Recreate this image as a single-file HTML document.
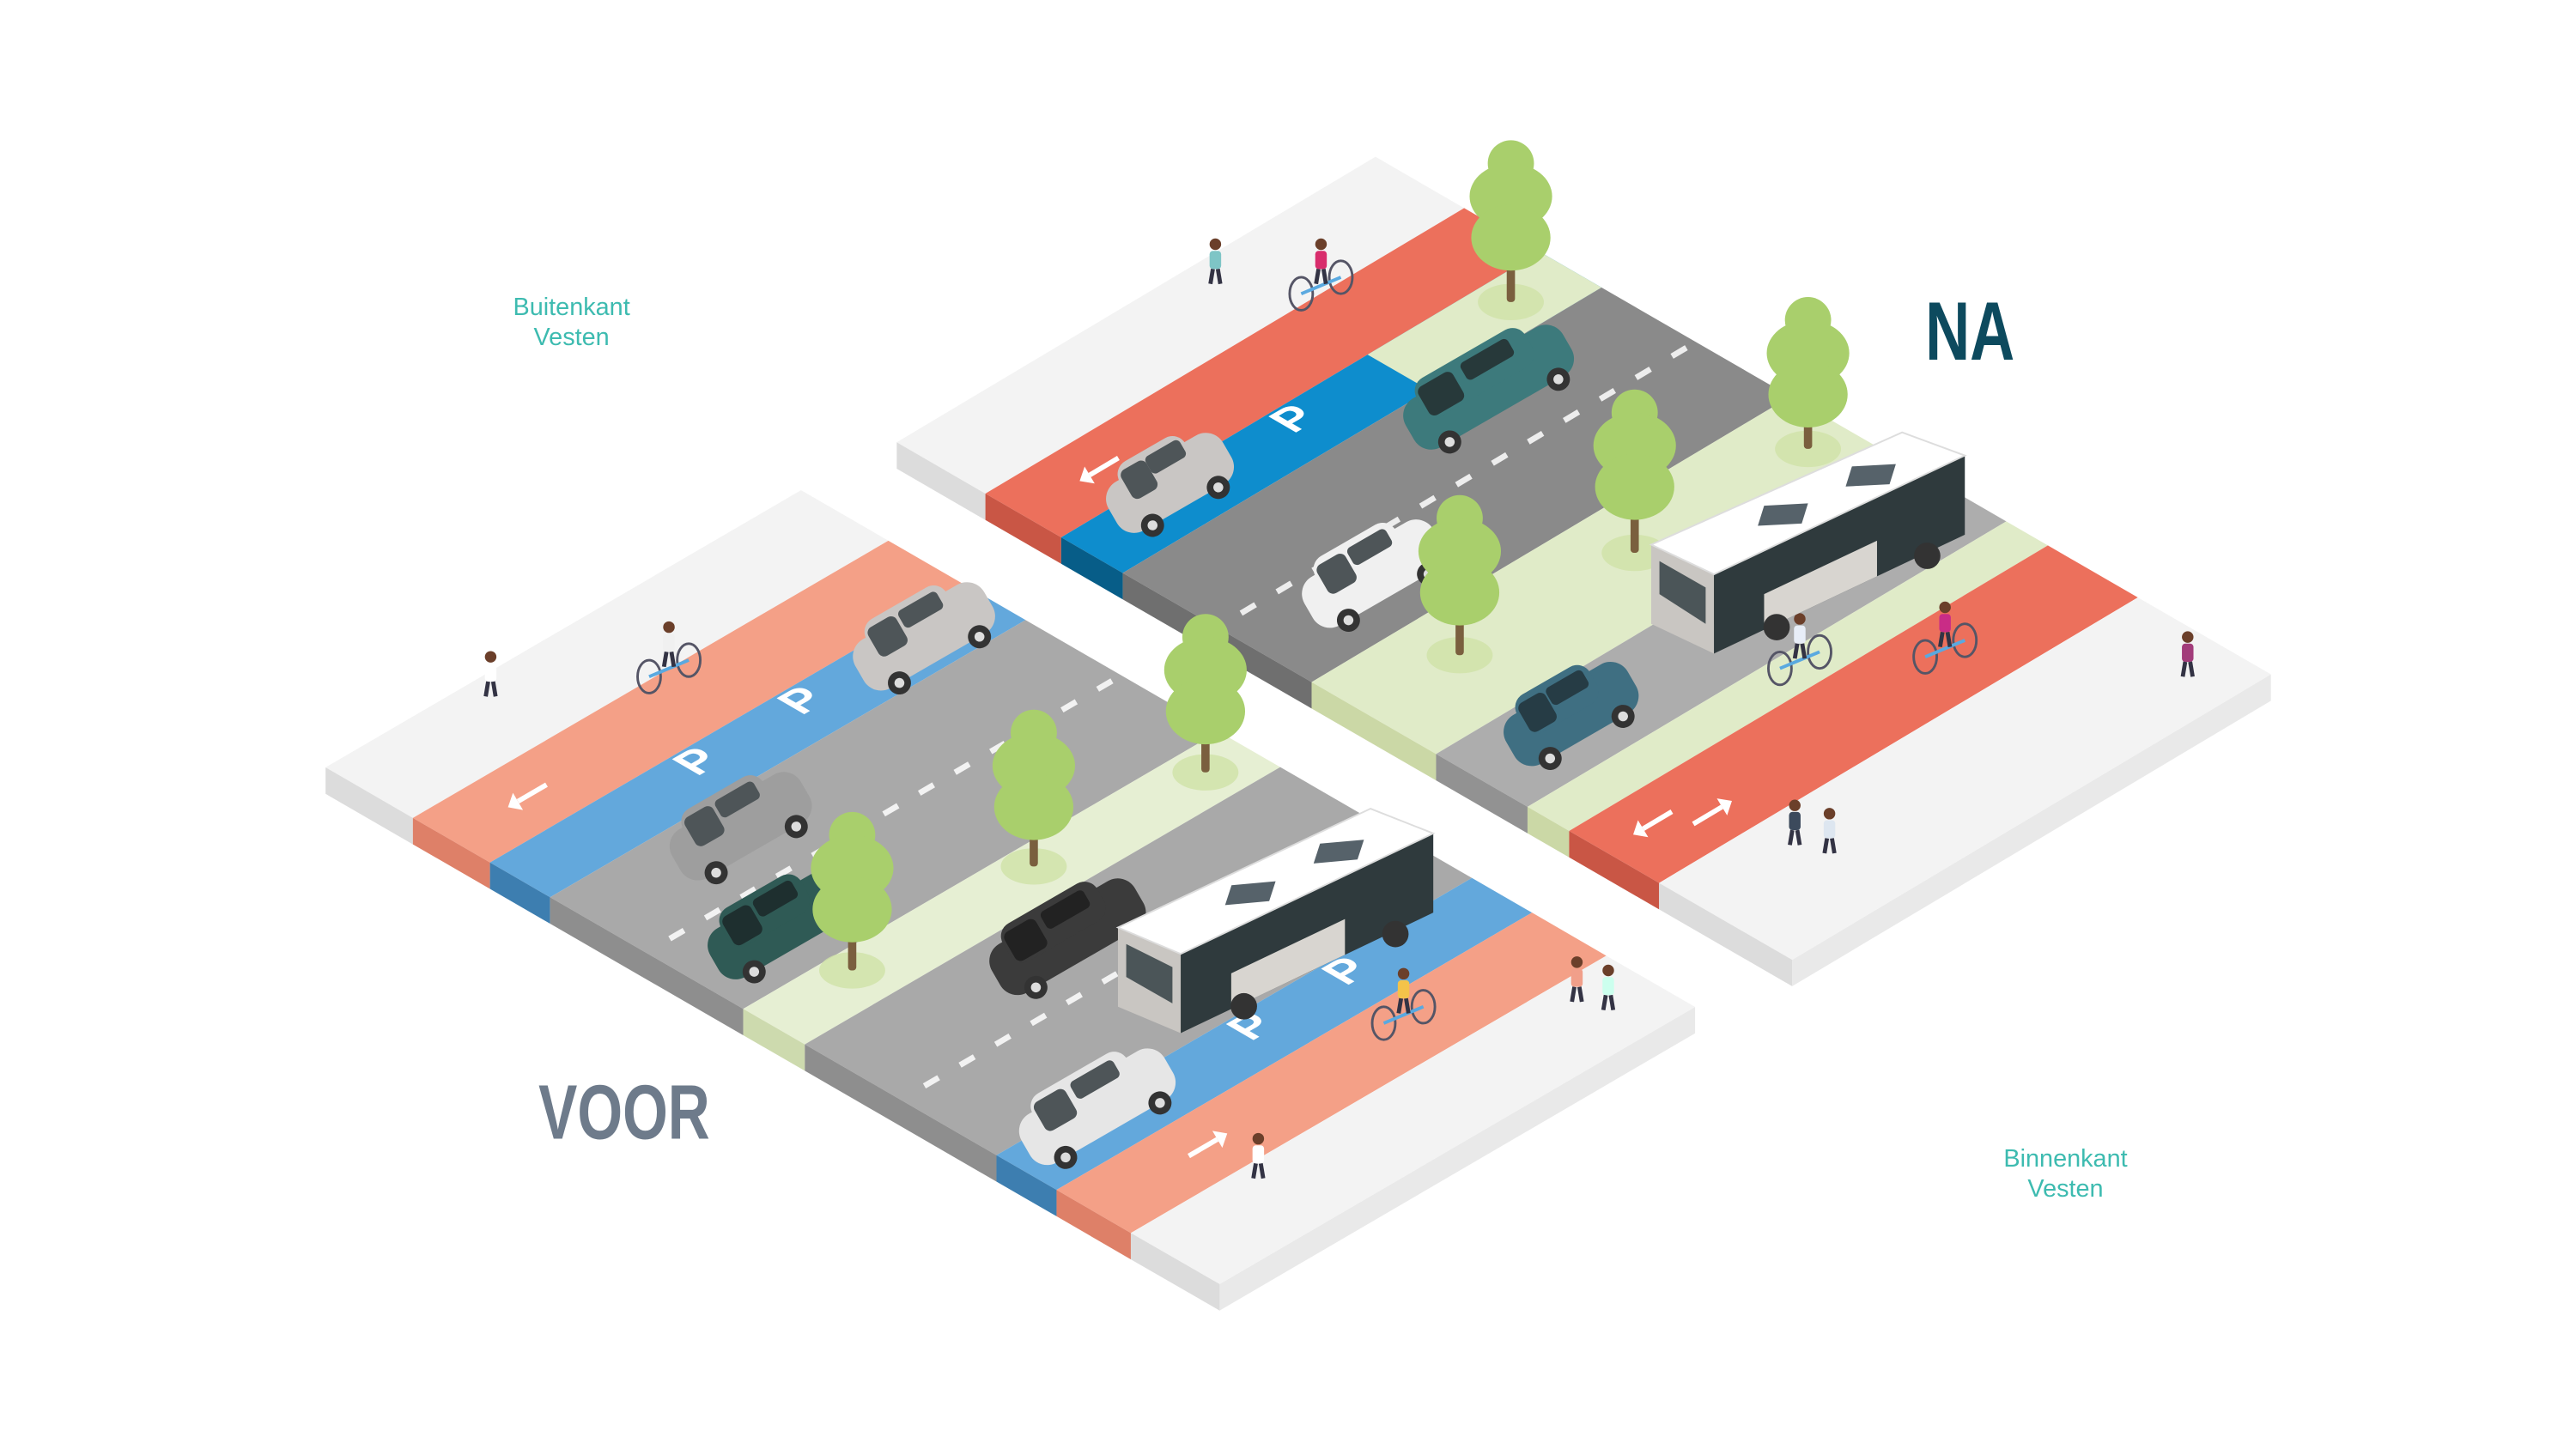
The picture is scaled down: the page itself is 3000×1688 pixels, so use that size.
<!DOCTYPE html>
<html><head><meta charset="utf-8"><style>
html,body{margin:0;padding:0;background:#fff}
svg{display:block}
</style></head><body>
<svg id="s" xmlns="http://www.w3.org/2000/svg" width="3000" height="1688" viewBox="0 0 1560 878">
<rect width="1560" height="878" fill="#fff"/>
<g id="g"></g>
<text x="346" y="191" font-family="Liberation Sans, sans-serif" font-size="15" fill="#3dbbb0" text-anchor="middle">Buitenkant</text>
<text x="346" y="209" font-family="Liberation Sans, sans-serif" font-size="15" fill="#3dbbb0" text-anchor="middle">Vesten</text>
<text x="1251" y="707" font-family="Liberation Sans, sans-serif" font-size="15" fill="#3dbbb0" text-anchor="middle">Binnenkant</text>
<text x="1251" y="725" font-family="Liberation Sans, sans-serif" font-size="15" fill="#3dbbb0" text-anchor="middle">Vesten</text>
<text transform="translate(1166,218) scale(0.75,1)" font-family="Liberation Sans, sans-serif" font-weight="bold" font-size="50" fill="#0d4a5e">NA</text>
<text transform="translate(326,690) scale(0.75,1)" font-family="Liberation Sans, sans-serif" font-weight="bold" font-size="47" fill="#6e7b8b">VOOR</text>
</svg>
<script>
var g=document.getElementById('g'),NS='http://www.w3.org/2000/svg';
function el(t,a){var e=document.createElementNS(NS,t);for(var k in a)e.setAttribute(k,a[k]);g.appendChild(e);return e;}
function pts(a){return a.map(function(p){return p[0].toFixed(1)+','+p[1].toFixed(1)}).join(' ');}
var W=[0.8665,0.501],T=16;
function mk(A,L){return function(u,v){return [A[0]+u*L[0]+v*W[0],A[1]+u*L[1]+v*W[1]];};}
function slab(P,strips,vmax,rightC){
  var a=P(0,vmax),b=P(1,vmax);
  el('polygon',{points:pts([a,b,[b[0],b[1]+T],[a[0],a[1]+T]]),fill:rightC});
  strips.forEach(function(s){
    var p=[P(0,s[0]),P(1,s[0]),P(1,s[1]),P(0,s[1])];
    el('polygon',{points:pts(p),fill:s[2]});
    var f=[P(0,s[0]),P(0,s[1])];
    el('polygon',{points:pts([f[0],f[1],[f[1][0],f[1][1]+T],[f[0][0],f[0][1]+T]]),fill:s[3]});
  });
}
function quad(P,u0,u1,v0,v1,c){el('polygon',{points:pts([P(u0,v0),P(u1,v0),P(u1,v1),P(u0,v1)]),fill:c});}
function dashes(P,vc,u0,u1){
  for(var u=u0;u<u1;u+=0.075){var a=P(u,vc),b=P(u+0.03,vc);
  el('line',{x1:a[0],y1:a[1],x2:b[0],y2:b[1],stroke:'#fff','stroke-width':3.5,opacity:0.85});}
}
function ptxt(P,u,v,c){var p=P(u,v);
  var t=el('text',{x:0,y:0,'font-family':'Liberation Sans, sans-serif','font-weight':'bold','font-size':28,fill:c,transform:'translate('+p[0]+','+p[1]+') matrix(0.866,-0.5,0.866,0.5,0,0)','text-anchor':'middle'});t.textContent='P';}
function arrow(P,u,v,dir){var a=P(u,v),b=P(u+0.06*dir,v);
  el('line',{x1:a[0],y1:a[1],x2:b[0],y2:b[1],stroke:'#fff','stroke-width':3});
  var dx=b[0]-a[0],dy=b[1]-a[1],l=Math.hypot(dx,dy);dx/=l;dy/=l;
  el('polygon',{points:pts([[b[0]+dx*7,b[1]+dy*7],[b[0]-dy*6,b[1]+dx*6],[b[0]+dy*6,b[1]-dx*6]]),fill:'#fff'});}
function tree(x,top,base){var y=top+69;
  el('ellipse',{cx:x,cy:base,rx:20,ry:11,fill:'#cfe2a8',opacity:0.8});
  el('rect',{x:x-2.5,y:y+5,width:5,height:base-y-5,fill:'#7a5f3e',rx:2});
  var c='#a9cf6c';
  el('ellipse',{cx:x,cy:y-55,rx:14,ry:14,fill:c});
  el('ellipse',{cx:x,cy:y-35,rx:25,ry:20,fill:c});
  el('ellipse',{cx:x,cy:y-10,rx:24,ry:20,fill:c});
}
function car(x,y,col,win,len){len=len||90;
  var gg=document.createElementNS(NS,'g');gg.setAttribute('transform','translate('+x+','+y+') rotate(-30)');g.appendChild(gg);
  function r(a){var e=document.createElementNS(NS,'rect');for(var k in a)e.setAttribute(k,a[k]);gg.appendChild(e);}
  function c(a){var e=document.createElementNS(NS,'circle');for(var k in a)e.setAttribute(k,a[k]);gg.appendChild(e);}
  r({x:-len/2,y:-14,width:len,height:34,rx:12,fill:col});
  r({x:-len/2+14,y:-22,width:len-34,height:26,rx:9,fill:col});
  r({x:-len/2+16,y:-18,width:len*0.22,height:20,rx:4,fill:win});
  r({x:-len/2+len*0.42,y:-18,width:len*0.3,height:12,rx:3,fill:win});
  c({cx:-len/2+18,cy:20,r:7,fill:'#333'});c({cx:len/2-16,cy:20,r:7,fill:'#333'});
  c({cx:-len/2+18,cy:20,r:3,fill:'#ddd'});c({cx:len/2-16,cy:20,r:3,fill:'#ddd'});
}
function bus(top,h){var a=top[0],b=top[1],c=top[2],d=top[3];
  el('polygon',{points:pts([d,c,[c[0],c[1]+h],[d[0],d[1]+h]]),fill:'#2f3a3d'});
  el('polygon',{points:pts([a,d,[d[0],d[1]+h],[a[0],a[1]+h]]),fill:'#c9c6c2'});
  el('polygon',{points:pts([[a[0]+5,a[1]+10],[d[0]-5,d[1]+8],[d[0]-5,d[1]+30],[a[0]+5,a[1]+30]]),fill:'#4b5558'});
  el('polygon',{points:pts([a,b,c,d]),fill:'#fff',stroke:'#ddd','stroke-width':1});
  var m=function(t,s){return [a[0]+(b[0]-a[0])*t+(d[0]-a[0])*s,a[1]+(b[1]-a[1])*t+(d[1]-a[1])*s]};
  [0.3,0.65].forEach(function(t){el('polygon',{points:pts([m(t,0.5),m(t+0.1,0.2),m(t+0.2,0.5),m(t+0.1,0.8)]),fill:'#56626a'});});
  el('polygon',{points:pts([[d[0]+(c[0]-d[0])*0.2,d[1]+(c[1]-d[1])*0.2+h*0.55],[d[0]+(c[0]-d[0])*0.65,d[1]+(c[1]-d[1])*0.65+h*0.55],[d[0]+(c[0]-d[0])*0.65,d[1]+(c[1]-d[1])*0.65+h],[d[0]+(c[0]-d[0])*0.2,d[1]+(c[1]-d[1])*0.2+h]]),fill:'#d8d5d0'});
  [0.25,0.85].forEach(function(t){el('circle',{cx:d[0]+(c[0]-d[0])*t,cy:d[1]+(c[1]-d[1])*t+h+2,r:8,fill:'#333'});});
}
function person(x,y,col){el('circle',{cx:x,cy:y-22,r:3.5,fill:'#6b3f2a'});
  el('rect',{x:x-3.5,y:y-18,width:7,height:11,rx:2,fill:col});
  el('line',{x1:x-1.5,y1:y-7,x2:x-3,y2:y+2,stroke:'#334','stroke-width':2.5});
  el('line',{x1:x+1.5,y1:y-7,x2:x+3,y2:y+2,stroke:'#334','stroke-width':2.5});}
function bike(x,y,col){el('ellipse',{cx:x-12,cy:y,rx:7,ry:10,fill:'none',stroke:'#556','stroke-width':1.5});
  el('ellipse',{cx:x+12,cy:y-10,rx:7,ry:10,fill:'none',stroke:'#556','stroke-width':1.5});
  el('line',{x1:x-12,y1:y,x2:x+12,y2:y-10,stroke:'#5aa9e0','stroke-width':2});
  person(x,y-8,col);}

var PV=mk([197,465],[288,-168]);
slab(PV,[[0,61,'#f3f3f3','#dcdcdc'],[61,115,'#f4a087','#de8068'],[115,157,'#63a8dc','#3d7eb0'],[157,292,'#a9a9a9','#8e8e8e'],[292,335,'#e6efd3','#cddaae'],[335,469,'#a9a9a9','#8e8e8e'],[469,511,'#63a8dc','#3d7eb0'],[511,563,'#f4a087','#de8068'],[563,625,'#f3f3f3','#dcdcdc']],625,'#e9e9e9');
var PN=mk([543,268],[290,-173]);
slab(PN,[[0,62,'#f3f3f3','#dcdcdc'],[62,115,'#ec705c','#c95645'],[115,158,'#0e8dcd','#075d88'],[158,290,'#8a8a8a','#6f6f6f'],[290,377,'#e0ebc8','#cbd8a6'],[377,441,'#adadad','#929292'],[441,470,'#e0ebc8','#cbd8a6'],[470,533,'#ec705c','#c95645'],[533,626,'#f3f3f3','#dcdcdc']],626,'#e9e9e9');
quad(PN,0.64,1,115,158,'#e0ebc8');
dashes(PV,224,0.05,1);dashes(PV,402,0.05,1);dashes(PN,224,0.05,1);
ptxt(PV,0.4,136,'#fff');ptxt(PV,0.62,136,'#fff');ptxt(PV,0.5,490,'#fff');ptxt(PV,0.7,490,'#fff');
ptxt(PN,0.45,136,'#fff');
arrow(PV,0.2,88,-1);arrow(PV,0.2,537,1);arrow(PN,0.2,88,-1);
arrow(PN,0.14,495,-1);arrow(PN,0.14,510,1);
person(297,420,'#fff');bike(405,410,'#f0f0f0');bike(850,620,'#f4c34a');person(955,605,'#f19f8a');person(974,610,'#cfe');person(762,712,'#fff');
person(736,170,'#7ec5c6');bike(800,178,'#d82d6c');bike(1090,405,'#e8eef8');bike(1178,398,'#c92c86');person(1325,408,'#a23c7a');person(1087,510,'#3c4a5c');person(1108,515,'#dde6f0');
car(558,383,'#c9c6c4','#4e5558');
car(707,290,'#c9c6c4','#4e5558',80);
car(900,232,'#3d7a7c','#27393a',110);
car(830,345,'#f0f0f0','#4e5558');
tree(915,85,183);tree(1095,180,272);tree(990,236,335);
bus([[1000,330],[1152,262],[1190,276],[1038,348]],48);
tree(884,300,397);
car(950,430,'#3f6f82','#263c45',85);
car(447,498,'#9e9e9e','#4e5558');
car(470,558,'#2f5a55','#1e2f2f');
tree(730,372,468);tree(626,430,525);
car(645,565,'#3b3b3b','#222',100);
bus([[677,562],[830,490],[868,505],[715,578]],48);
tree(516,492,588);
car(663,668,'#e6e6e6','#4e5558',100);
</script>
</body></html>
